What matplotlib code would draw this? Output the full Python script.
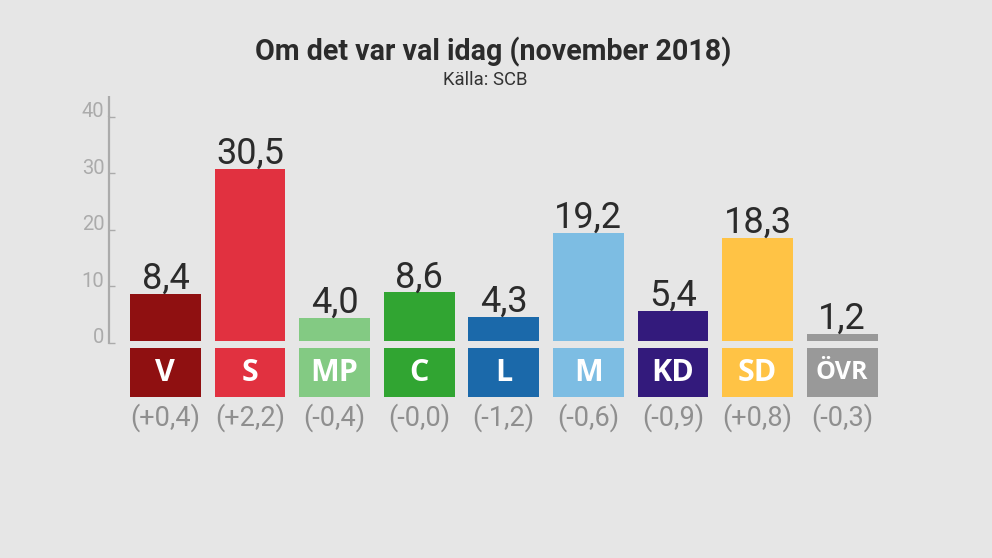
import matplotlib
matplotlib.use("Agg")
import matplotlib.pyplot as plt

parties = ["V", "S", "MP", "C", "L", "M", "KD", "SD", "ÖVR"]
values = [8.4, 30.5, 4.0, 8.6, 4.3, 19.2, 5.4, 18.3, 1.2]
changes = ["(+0,4)", "(+2,2)", "(-0,4)", "(-0,0)", "(-1,2)", "(-0,6)", "(-0,9)", "(+0,8)", "(-0,3)"]
colors = ["#8f1011", "#e13140", "#83ca83", "#31a532", "#1b69aa", "#7dbde3", "#331a7c", "#ffc345", "#999999"]
yticks = [0, 10, 20, 30, 40]

W, H = 992, 558
BG = "#e6e6e6"


def axes_px(fig, left, top, right, bottom):
    # pixel box, measured from the top left like in the image
    return fig.add_axes([left / W, 1 - bottom / H, (right - left) / W, (bottom - top) / H])


fig = plt.figure(figsize=(W / 100, H / 100), dpi=100, facecolor=BG)

x = list(range(len(parties)))
xlim = (-165.4 / 84.6, (W - 165.4) / 84.6)
bar_w = 70.7 / 84.6

# bars
ax = axes_px(fig, 0, 115.4, W, 341)
ax.patch.set_alpha(0)
ax.bar(x, values, width=bar_w, color=colors)
ax.set_xlim(xlim)
ax.set_ylim(0, 40)
ax.axis("off")
for i, v in zip(x, values):
    ax.annotate(f"{v:.1f}".replace(".", ","), (i, v), xytext=(0, -2), textcoords="offset points",
                ha="center", va="bottom", fontsize=26, family="Roboto", color="#2b2b2b", clip_on=False)

# y scale sits a little below the bar baseline
ay = axes_px(fig, 109, 116.7, 300, 342.7)
ay.patch.set_alpha(0)
ay.set_xlim(0, 1)
ay.set_ylim(0, 40)
ay.set_xticks([])
ay.set_yticks(yticks)
ay.set_yticklabels([])
ay.tick_params(axis="y", direction="in", length=4, width=1, color="#ababab")
for s in ["top", "right", "bottom"]:
    ay.spines[s].set_visible(False)
ay.spines["left"].set_color("#ababab")
ay.spines["left"].set_linewidth(1.6)
ay.plot([0, 0], [40, 43.6], color="#ababab", lw=1.6, clip_on=False, solid_capstyle="butt")
for t in yticks:
    # labels float a bit above their tick
    ay.annotate(str(t), (0, t), xytext=(-3.4, 3.4), textcoords="offset points", ha="right", va="center",
                fontsize=14.5, family="Roboto", color="#ababab", annotation_clip=False)

# party boxes
al = axes_px(fig, 0, 348.3, W, 397)
al.bar(x, [1] * len(x), width=bar_w, color=colors)
al.set_xlim(xlim)
al.set_ylim(0, 1)
al.axis("off")
for i, p, c in zip(x, parties, changes):
    size = 18 if p == "ÖVR" else 22
    al.text(i, 0.5, p, ha="center", va="center", fontsize=size, family="Open Sans",
            fontweight="bold", color="white")
    al.text(i, -0.42, c, ha="center", va="center", fontsize=19.5, family="Roboto", color="#8f8f8f", clip_on=False)

fig.text(493.5 / W, 1 - 52 / H, "Om det var val idag (november 2018)", ha="center", va="center",
         fontsize=20.6, family="Roboto", fontweight="bold", color="#2b2b2b")
fig.text(485 / W, 1 - 80 / H, "Källa: SCB", ha="center", va="center",
         fontsize=13.3, family="Roboto", color="#333333")

fig.savefig("out.png", dpi=100, facecolor=BG)
